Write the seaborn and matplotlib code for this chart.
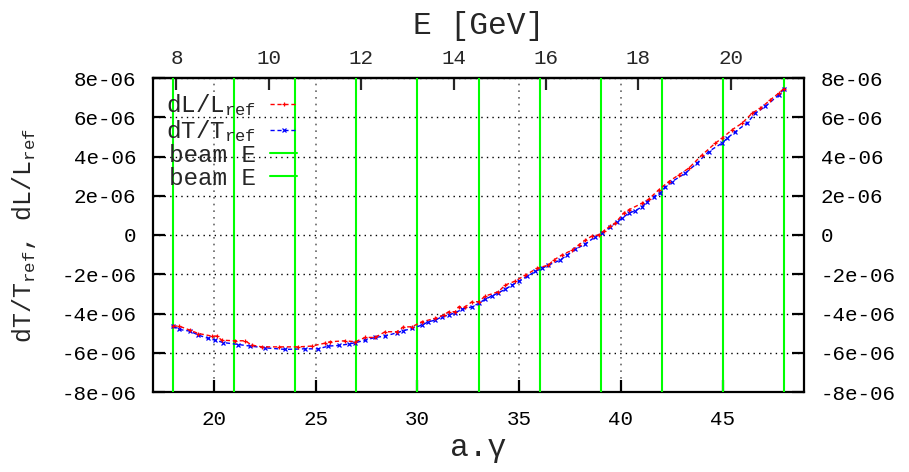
import numpy as np
import pandas as pd
import matplotlib
matplotlib.use("Agg")
import matplotlib.pyplot as plt
import seaborn as sns

# Spin tune a.gamma and relative deviations of length / revolution time (units of 1e-6)
ag_L = [18.0, 18.28, 18.82, 19.23, 19.89, 20.13, 20.38, 21.03, 21.53, 21.85,
        22.35, 23.17, 24.15, 24.8, 25.46, 25.7, 26.44, 26.94, 27.43, 27.92,
        28.41, 28.99, 29.31, 29.72, 30.22, 30.87, 31.28, 31.53, 31.86, 32.02,
        32.35, 32.68, 33.0, 33.33, 33.98, 34.31, 34.8, 35.3, 35.87, 36.44,
        36.69, 37.1, 37.6, 37.92, 38.25, 38.58, 38.9, 39.15, 39.48, 39.72,
        40.13, 40.38, 41.04, 41.36, 41.86, 42.35, 42.84, 43.33, 43.99, 44.64,
        44.97, 45.46, 45.96, 46.45, 46.86, 47.35, 47.76, 48.0]
dL_L = [-4.64, -4.64, -4.85, -5.02, -5.15, -5.15, -5.36, -5.39, -5.39, -5.61,
        -5.70, -5.70, -5.70, -5.66, -5.51, -5.44, -5.39, -5.44, -5.22, -5.22,
        -4.93, -4.93, -4.68, -4.68, -4.42, -4.25, -4.08, -3.91, -3.91, -3.66,
        -3.66, -3.40, -3.40, -3.11, -2.89, -2.55, -2.35, -2.05, -1.70, -1.53,
        -1.28, -1.02, -0.77, -0.51, -0.26, -0.05, 0.0, 0.20, 0.46, 0.60,
        1.11, 1.28, 1.62, 1.82, 2.30, 2.72, 3.06, 3.40, 4.08, 4.68,
        4.93, 5.36, 5.70, 6.21, 6.46, 6.89, 7.23, 7.45]

ag_T = [18.0, 18.28, 18.82, 19.23, 19.72, 20.05, 20.46, 21.2, 21.77, 22.51,
        23.5, 24.48, 25.13, 25.62, 26.12, 26.61, 26.94, 27.43, 27.92, 28.41,
        28.99, 29.31, 29.72, 30.22, 30.54, 30.87, 31.2, 31.53, 31.86, 32.18,
        32.68, 33.0, 33.33, 33.66, 33.98, 34.31, 34.65, 35.0, 35.4, 35.8,
        36.12, 36.44, 37.02, 37.35, 37.76, 38.25, 38.74, 39.07, 39.48, 39.81,
        40.05, 40.38, 40.71, 41.04, 41.28, 41.61, 41.94, 42.18, 42.51, 43.17,
        43.74, 44.31, 44.97, 45.22, 45.63, 46.2, 46.61, 47.1, 47.76, 48.0]
dT_T = [-4.64, -4.81, -4.90, -5.10, -5.27, -5.36, -5.48, -5.58, -5.66, -5.75,
        -5.83, -5.80, -5.80, -5.66, -5.63, -5.56, -5.49, -5.36, -5.22, -5.15,
        -4.98, -4.88, -4.76, -4.59, -4.42, -4.34, -4.17, -4.08, -3.96, -3.79,
        -3.66, -3.49, -3.27, -3.11, -2.94, -2.77, -2.55, -2.35, -2.10, -1.85,
        -1.70, -1.53, -1.28, -1.02, -0.73, -0.46, -0.09, 0.12, 0.39, 0.68,
        0.85, 1.11, 1.24, 1.44, 1.70, 1.95, 2.16, 2.46, 2.72, 3.15,
        3.66, 4.25, 4.68, 4.93, 5.27, 5.70, 6.21, 6.55, 7.14, 7.45]

# a.gamma positions of the two beam-energy marker sets
beam_E_a = [18, 24, 30, 36, 42, 48]
beam_E_b = [21, 27, 33, 39, 45]

x_ticks = [20, 25, 30, 35, 40, 45]
y_ticks = [-8e-6, -6e-6, -4e-6, -2e-6, 0.0, 2e-6, 4e-6, 6e-6, 8e-6]
y_tick_labels = ["-8e-06", "-6e-06", "-4e-06", "-2e-06", "0",
                 "2e-06", "4e-06", "6e-06", "8e-06"]
E_ticks = [8, 10, 12, 14, 16, 18, 20]
E_PER_AG = 0.44065  # GeV per unit of a.gamma (electron)

sns.set_style("white")
plt.rcParams["font.family"] = ["Liberation Mono", "DejaVu Sans"]
plt.rcParams["mathtext.fontset"] = "custom"
plt.rcParams["mathtext.rm"] = "Liberation Mono"
plt.rcParams["mathtext.it"] = "Liberation Mono"
plt.rcParams["axes.unicode_minus"] = False

W, H = 909, 472
fig = plt.figure(figsize=(W / 100, H / 100), dpi=100)
ax = fig.add_axes([153 / W, 80 / H, 651 / W, 314 / H])

df_L = pd.DataFrame({"ag": ag_L, "dev": np.array(dL_L) * 1e-6})
df_T = pd.DataFrame({"ag": ag_T, "dev": np.array(dT_T) * 1e-6})

sns.lineplot(data=df_L, x="ag", y="dev", ax=ax, color="red", lw=1,
             linestyle=(0, (3, 2)), marker="+", markersize=3,
             markeredgewidth=0.9, markeredgecolor="red",
             sort=False, estimator=None, legend=False, zorder=5)
line_L = ax.lines[-1]
sns.lineplot(data=df_T, x="ag", y="dev", ax=ax, color="blue", lw=1,
             linestyle=(0, (3, 2)), marker="x", markersize=2.5,
             markeredgewidth=0.9, markeredgecolor="blue",
             sort=False, estimator=None, legend=False, zorder=4)
line_T = ax.lines[-1]

green = "#00ff00"
g_a = [ax.axvline(v, color=green, lw=1.5, zorder=3) for v in beam_E_a][0]
g_b = [ax.axvline(v, color=green, lw=1.5, zorder=3) for v in beam_E_b][0]

ax.set_xlim(17, 49)
ax.set_ylim(-8e-6, 8e-6)
ax.set_xticks(x_ticks)
ax.set_yticks(y_ticks, labels=y_tick_labels)

ax.xaxis.grid(True, color="0.4", ls=(0, (1, 3)), lw=1.2)
ax.yaxis.grid(True, color="black", ls=(0, (1, 3)), lw=1.0)
ax.set_axisbelow(True)

for s in ax.spines.values():
    s.set_linewidth(1.6)
    s.set_color("black")
    s.set_visible(True)

ax.tick_params(axis="both", direction="in", length=8.5, width=1.6,
               labelsize=15, colors="black")
ax.tick_params(axis="x", top=False, bottom=True, pad=13)
ax.tick_params(axis="y", left=True, right=True, labelleft=True,
               labelright=True, pad=12)

secax = ax.secondary_xaxis("top", functions=(lambda a: a * E_PER_AG,
                                             lambda e: e / E_PER_AG))
secax.set_xticks(E_ticks)
secax.tick_params(direction="in", length=8.5, width=1.6, labelsize=15, pad=7)
secax.spines["top"].set_linewidth(1.6)
secax.set_xlabel("E [GeV]", fontsize=22.5, labelpad=11)

ax.set_xlabel("a.γ", fontsize=22.5, labelpad=3)
ax.set_ylabel(r"dT/T$_{\rm ref}$, dL/L$_{\rm ref}$", fontsize=18)
ax.yaxis.set_label_coords((38 - 153) / 651, 0.5)

ax.legend([line_L, line_T, g_a, g_b],
          [r"dL/L$_{\rm ref}$", r"dT/T$_{\rm ref}$", "beam E", "beam E"],
          loc="upper right", bbox_to_anchor=((297 - 153) / 651, 0.955),
          markerfirst=False, frameon=False, fontsize=17.5, handlelength=1.1,
          handletextpad=0.6, labelspacing=0.0, borderaxespad=0, borderpad=0,
          numpoints=1)

fig.savefig("out.png", dpi=100)
